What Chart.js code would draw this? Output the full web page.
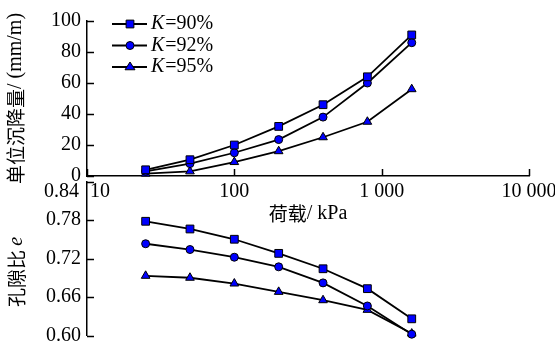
<!DOCTYPE html>
<html>
<head>
<meta charset="utf-8">
<script src="https://cdn.jsdelivr.net/npm/chart.js@4.4.1/dist/chart.umd.min.js"></script>
<style>
  body { margin: 0; background: #fff; }
  #wrap { position: relative; width: 555px; height: 347px; }
  canvas { position: absolute; left: 0; top: 0; }
</style>
</head>
<body>
<div id="wrap">
  <canvas id="settleChart" width="555" height="347"></canvas>
  <canvas id="voidChart" width="555" height="347"></canvas>
</div>
<script>
// --- data ---
const loads = [25, 50, 100, 200, 400, 800, 1600];            // kPa
const settleK90 = [4, 10.5, 20, 32, 46, 64, 91];
const settleK92 = [3, 8, 15, 23.5, 38, 60, 86];
const settleK95 = [1.5, 3, 9, 16, 25, 35, 56];
const voidK90 = [0.778, 0.766, 0.750, 0.728, 0.704, 0.673, 0.626];
const voidK92 = [0.743, 0.734, 0.722, 0.707, 0.682, 0.646, 0.602];
const voidK95 = [0.693, 0.690, 0.681, 0.668, 0.655, 0.640, 0.603];
const seriesNames = ['90%', '92%', '95%'];
const loadTicks = [10, 100, 1000, 10000];
const loadTickLabels = ['10', '100', '1 000', '10 000'];
const settleTicks = [0, 20, 40, 60, 80, 100];
const voidTicks = [0.60, 0.66, 0.72, 0.78, 0.84];

const SERIF = '"Liberation Serif", "Times New Roman", serif';
const CJK = '"Noto Sans CJK SC", "Noto Sans", sans-serif';
const markers = ['rect', 'circle', 'triangle'];
const markerRadius = [5.5, 4, 5];
const BLUE = '#0000ff';

function makeSets(lists) {
  return lists.map((vals, i) => ({
    label: 'K=' + seriesNames[i],
    data: loads.map((x, j) => ({ x: x, y: vals[j] })),
    showLine: true,
    borderColor: '#000',
    borderWidth: 1.8,
    pointStyle: markers[i],
    pointRadius: markerRadius[i],
    pointBackgroundColor: BLUE,
    pointBorderColor: '#000',
    pointBorderWidth: 1,
    tension: 0,
    clip: false
  }));
}

// mixed-font text, parts = [[text, font], ...], centred on (cx, cy)
function drawParts(ctx, parts, cx, cy, rotate) {
  ctx.save();
  ctx.translate(cx, cy);
  if (rotate) ctx.rotate(-Math.PI / 2);
  let total = 0;
  parts.forEach(p => { ctx.font = p[1]; total += ctx.measureText(p[0]).width; });
  let x = -total / 2;
  ctx.fillStyle = '#000';
  ctx.textAlign = 'left';
  ctx.textBaseline = 'middle';
  parts.forEach(p => {
    ctx.font = p[1];
    ctx.fillText(p[0], x, 0);
    x += ctx.measureText(p[0]).width;
  });
  ctx.restore();
}

function drawMarker(ctx, style, r, x, y) {
  ctx.beginPath();
  if (style === 'rect') {
    const s = Math.SQRT1_2 * r;
    ctx.rect(x - s, y - s, 2 * s, 2 * s);
  } else if (style === 'circle') {
    ctx.arc(x, y, r, 0, Math.PI * 2);
  } else {
    const h = r * 1.5;
    ctx.moveTo(x, y - r);
    ctx.lineTo(x - r * 0.866 * 1.15, y + r * 0.5 * 1.1);
    ctx.lineTo(x + r * 0.866 * 1.15, y + r * 0.5 * 1.1);
    ctx.closePath();
  }
  ctx.fillStyle = BLUE;
  ctx.fill();
  ctx.lineWidth = 1;
  ctx.strokeStyle = '#000';
  ctx.stroke();
}

// tick marks point into the plot
function innerTicks(chart, drawX) {
  const ctx = chart.ctx;
  const area = chart.chartArea;
  const ys = chart.scales.y;
  ctx.save();
  ctx.strokeStyle = '#000';
  ctx.lineWidth = 1.5;
  ys.ticks.forEach(t => {
    const py = Math.round(ys.getPixelForValue(t.value)) + 0.5;
    ctx.beginPath();
    ctx.moveTo(area.left, py);
    ctx.lineTo(area.left + 7, py);
    ctx.stroke();
  });
  if (drawX) {
    const xs = chart.scales.x;
    loadTicks.forEach(v => {
      const px = Math.round(xs.getPixelForValue(v)) + 0.5;
      ctx.beginPath();
      ctx.moveTo(px, area.bottom);
      ctx.lineTo(px, area.bottom - 7);
      ctx.stroke();
    });
  }
  ctx.restore();
}

const settleDeco = {
  id: 'settleDeco',
  afterDraw(chart) {
    const ctx = chart.ctx;
    const area = chart.chartArea;
    innerTicks(chart, true);
    // first x label sits just right of the axis
    ctx.save();
    ctx.font = '20px ' + SERIF;
    ctx.fillStyle = '#000';
    ctx.textAlign = 'left';
    ctx.textBaseline = 'middle';
    ctx.fillText(loadTickLabels[0], chart.scales.x.getPixelForValue(loadTicks[0]) + 3, 192);
    ctx.restore();
    // axis titles
    drawParts(ctx, [['单位沉降量', '19px ' + CJK], ['/ (mm/m)', '20px ' + SERIF]],
      16, (area.top + area.bottom) / 2, true);
    drawParts(ctx, [['荷载', '19px ' + CJK], ['/ kPa', '20px ' + SERIF]],
      (area.left + area.right) / 2, 214, false);
    // legend
    chart.data.datasets.forEach((ds, i) => {
      const y = 24 + i * 21.5;
      ctx.save();
      ctx.strokeStyle = '#000';
      ctx.lineWidth = 1.8;
      ctx.beginPath();
      ctx.moveTo(112, y);
      ctx.lineTo(147, y);
      ctx.stroke();
      drawMarker(ctx, ds.pointStyle, ds.pointRadius, 130, y);
      ctx.restore();
      drawLegendText(ctx, seriesNames[i], 151, y);
    });
  }
};

function drawLegendText(ctx, name, x, y) {
  ctx.save();
  ctx.fillStyle = '#000';
  ctx.textAlign = 'left';
  ctx.textBaseline = 'middle';
  ctx.font = 'italic 20px ' + SERIF;
  ctx.fillText('K', x, y);
  const w = ctx.measureText('K').width;
  ctx.font = '20px ' + SERIF;
  ctx.fillText('=' + name, x + w + 1, y);
  ctx.restore();
}

const voidDeco = {
  id: 'voidDeco',
  afterDraw(chart) {
    const ctx = chart.ctx;
    const area = chart.chartArea;
    innerTicks(chart, false);
    // top label moved down to clear the upper panel
    ctx.save();
    ctx.font = '20px ' + SERIF;
    ctx.fillStyle = '#000';
    ctx.textAlign = 'right';
    ctx.textBaseline = 'middle';
    ctx.fillText(voidTicks[voidTicks.length - 1].toFixed(2), 79, 192);
    ctx.restore();
    drawParts(ctx, [['孔隙比 ', '19px ' + CJK], ['e', 'italic 20px ' + SERIF]],
      17, 272, true);
  }
};

function yAxis(min, max, ticks, fmt) {
  return {
    type: 'linear',
    min: min,
    max: max,
    grid: { display: false, drawTicks: false },
    border: { display: true, color: '#000', width: 1.5 },
    ticks: {
      color: '#000',
      font: { family: SERIF, size: 20 },
      padding: 6,
      callback: fmt
    },
    afterBuildTicks: axis => { axis.ticks = ticks.map(v => ({ value: v })); },
    afterFit: axis => { axis.width = 87; axis.paddingTop = 0; axis.paddingBottom = 0; }
  };
}

const baseOpts = {
  responsive: false,
  animation: false,
  devicePixelRatio: 1,
  plugins: { legend: { display: false }, tooltip: { enabled: false } }
};

window.onload = () => {
  new Chart(document.getElementById('settleChart'), {
    type: 'scatter',
    data: { datasets: makeSets([settleK90, settleK92, settleK95]) },
    options: Object.assign({}, baseOpts, {
      layout: { padding: { top: 21, right: 26, bottom: 131, left: 0 } },
      scales: {
        x: {
          type: 'logarithmic',
          min: 10,
          max: 10000,
          grid: { display: false, drawTicks: false },
          border: { display: true, color: '#000', width: 1.5 },
          ticks: {
            color: '#000',
            font: { family: SERIF, size: 20 },
            padding: 4,
            autoSkip: false,
            maxRotation: 0,
            callback: v => {
              const i = loadTicks.indexOf(v);
              return i > 0 ? loadTickLabels[i] : '';
            }
          },
          afterBuildTicks: axis => { axis.ticks = loadTicks.map(v => ({ value: v, major: true })); },
          afterFit: axis => { axis.height = 40; axis.paddingLeft = 0; axis.paddingRight = 0; }
        },
        y: yAxis(0, 100, settleTicks, v => String(v))
      }
    }),
    plugins: [settleDeco]
  });

  new Chart(document.getElementById('voidChart'), {
    type: 'scatter',
    data: { datasets: makeSets([voidK90, voidK92, voidK95]) },
    options: Object.assign({}, baseOpts, {
      layout: { padding: { top: 181.5, right: 26, bottom: 11.5, left: 0 } },
      scales: {
        x: { type: 'logarithmic', min: 10, max: 10000, display: false },
        y: yAxis(0.6, 0.84, voidTicks, v => (Math.abs(v - 0.84) < 1e-6 ? '' : v.toFixed(2)))
      }
    }),
    plugins: [voidDeco]
  });
};
</script>
</body>
</html>
